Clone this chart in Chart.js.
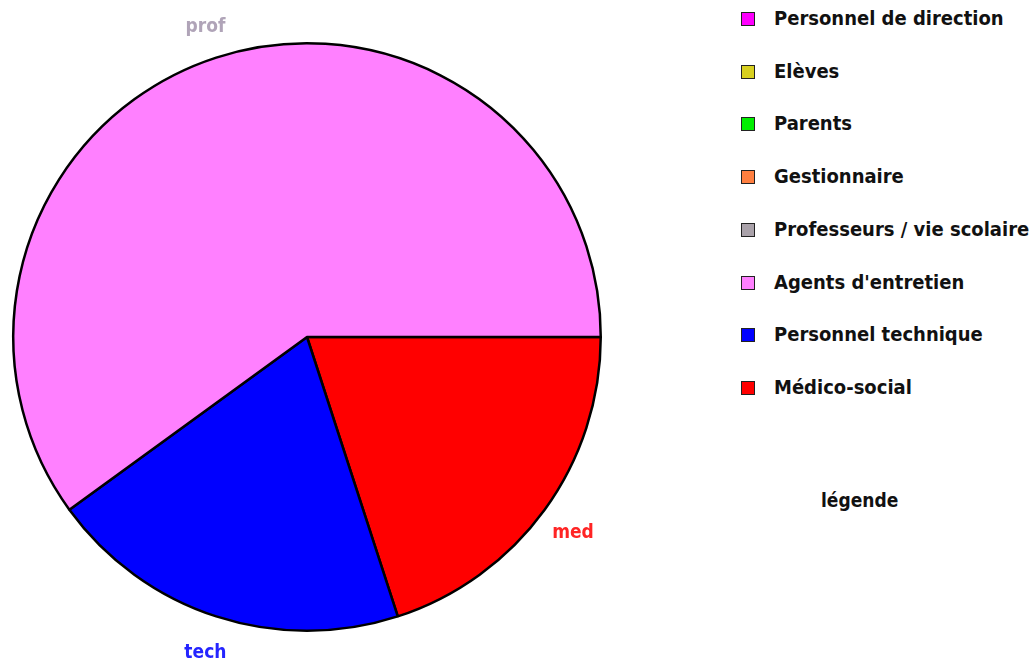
<!DOCTYPE html>
<html>
<head>
<meta charset="utf-8">
<script src="https://cdn.jsdelivr.net/npm/chart.js@4/dist/chart.umd.min.js"></script>
<style>
  html,body{margin:0;padding:0;background:#fff;}
  body{width:1033px;height:662px;position:relative;overflow:hidden;font-family:"DejaVu Sans Condensed","DejaVu Sans",sans-serif;font-weight:bold;}
  #wrap{position:absolute;left:0;top:0;width:616px;height:662px;}
  #legend{position:absolute;left:741px;top:0;margin:0;padding:0;list-style:none;}
  #legend li{position:absolute;left:0;height:24px;line-height:24px;white-space:nowrap;font-size:20px;color:#111;}
  #legend .box{position:absolute;left:0;top:4px;width:12px;height:12px;border:1.5px solid #222;}
  #legend .txt{position:absolute;left:33px;top:-2px;}
  #title{position:absolute;left:821px;top:489px;font-size:19px;color:#111;}
</style>
</head>
<body>
<div id="wrap"><canvas id="pie"></canvas></div>
<ul id="legend"></ul>
<div id="title">légende</div>
<script>
// legend categories, in the order shown
const categories = ['Personnel de direction','Elèves','Parents','Gestionnaire','Professeurs / vie scolaire',"Agents d'entretien",'Personnel technique','Médico-social'];
const shortLabels = ['dir','eleves','parents','gest','prof','prof','tech','med'];
const values = [0, 0, 0, 0, 0, 3, 1, 1];
const colors = ['#ff00ff','#d8d020','#00ee00','#ff7f40','#aaa2aa','#ff80ff','#0000ff','#ff0000'];
const labelColors = ['#ff00ff','#d8d020','#00ee00','#ff7f40','#b0a4b8','#b0a4b8','#2424ff','#ff2424'];

// legend (html)
const ul = document.getElementById('legend');
categories.forEach((c,i)=>{
  const li = document.createElement('li');
  li.style.top = (8 + i*52.7) + 'px';
  li.innerHTML = `<span class="box" style="background:${colors[i]}"></span><span class="txt">${c}</span>`;
  ul.appendChild(li);
});

// slices go anticlockwise in legend order from 3 o'clock -> reverse for chart.js (clockwise)
const idx = values.map((v,i)=>i).filter(i=>values[i]>0).reverse();

const outerLabels = {
  id:'outerLabels',
  afterDatasetsDraw(chart){
    const ctx = chart.ctx;
    const meta = chart.getDatasetMeta(0);
    ctx.save();
    ctx.font = 'bold 19px "DejaVu Sans Condensed","DejaVu Sans",sans-serif';
    ctx.textAlign = 'center';
    ctx.textBaseline = 'middle';
    meta.data.forEach((arc,j)=>{
      const k = idx[j];
      const p = arc.getProps(['x','y','startAngle','endAngle','outerRadius'],true);
      const a = (p.startAngle + p.endAngle)/2;
      const r = p.outerRadius + 35;
      ctx.fillStyle = labelColors[k];
      ctx.fillText(shortLabels[k], p.x + Math.cos(a)*r, p.y + Math.sin(a)*r + 3);
    });
    ctx.restore();
  }
};

new Chart(document.getElementById('pie'), {
  type:'pie',
  data:{
    labels: idx.map(i=>categories[i]),
    datasets:[{
      data: idx.map(i=>values[i]),
      backgroundColor: idx.map(i=>colors[i]),
      borderColor:'#000',
      borderWidth:2.5
    }]
  },
  options:{
    responsive:true,
    maintainAspectRatio:false,
    animation:false,
    rotation:90,
    layout:{padding:{top:42,bottom:30,left:12,right:14}},
    plugins:{legend:{display:false},tooltip:{enabled:false}}
  },
  plugins:[outerLabels]
});
</script>
</body>
</html>
